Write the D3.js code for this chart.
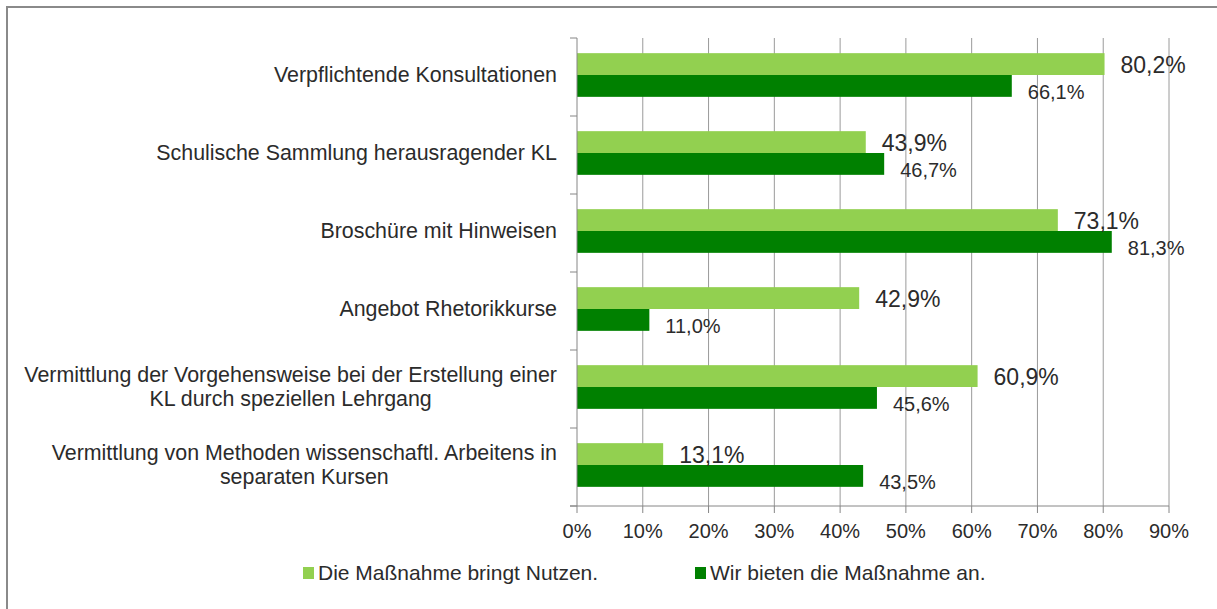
<!DOCTYPE html>
<html>
<head>
<meta charset="utf-8">
<script src="https://cdn.jsdelivr.net/npm/d3@7"></script>
<style>
  html, body { margin: 0; padding: 0; background: #fff; }
  svg text { font-family: "Liberation Sans", Arial, sans-serif; fill: #2b2b2b; }
</style>
</head>
<body>
<div id="chart"></div>
<script>
// --- Data ---
const categories = [
    "Verpflichtende Konsultationen",
    "Schulische Sammlung herausragender KL",
    "Broschüre mit Hinweisen",
    "Angebot Rhetorikkurse",
    "Vermittlung der Vorgehensweise bei der Erstellung einer\nKL durch speziellen Lehrgang",
    "Vermittlung von Methoden wissenschaftl. Arbeitens in\nseparaten Kursen"
];
const nutzen = [80.2, 43.9, 73.1, 42.9, 60.9, 13.1];
const bieten = [66.1, 46.7, 81.3, 11.0, 45.6, 43.5];
const seriesNames = ["Die Maßnahme bringt Nutzen.", "Wir bieten die Maßnahme an."];
const xTicks = [0, 10, 20, 30, 40, 50, 60, 70, 80, 90];

const width = 1217, height = 609;
const colors = ["#92d050", "#008000"];

const svg = d3.select("#chart").append("svg")
    .attr("width", width)
    .attr("height", height);

// outer frame (only top and left edges visible)
svg.append("rect")
    .attr("x", 7).attr("y", 7)
    .attr("width", 1240).attr("height", 640)
    .attr("fill", "none")
    .attr("stroke", "#8a8a8a")
    .attr("stroke-width", 2);

const plot = { left: 577, right: 1169, top: 38, bottom: 506 };

const x = d3.scaleLinear().domain([0, 90]).range([plot.left, plot.right]);
const y = d3.scaleBand().domain(d3.range(categories.length))
    .range([plot.top, plot.bottom])
    .paddingInner(0.44).paddingOuter(0.22);
const ySub = d3.scaleBand().domain([0, 1]).range([0, y.bandwidth()]);

const de = d3.formatLocale({ decimal: ",", thousands: ".", grouping: [3], currency: ["", " €"] });
const fmt = v => de.format(".1f")(v) + "%";

// gridlines
svg.append("g").selectAll("line")
    .data(xTicks.slice(1))
    .join("line")
    .attr("x1", d => x(d)).attr("x2", d => x(d))
    .attr("y1", plot.top).attr("y2", plot.bottom)
    .attr("stroke", "#9a9a9a")
    .attr("stroke-width", 1);

// bars
const rows = categories.map((c, i) => ({ i, vals: [nutzen[i], bieten[i]] }));
const groups = svg.append("g").selectAll("g")
    .data(rows)
    .join("g")
    .attr("transform", d => `translate(0,${y(d.i) - 2})`);

groups.selectAll("rect")
    .data(d => d.vals.map((v, s) => ({ v, s })))
    .join("rect")
    .attr("x", x(0))
    .attr("y", d => ySub(d.s))
    .attr("width", d => x(d.v) - x(0))
    .attr("height", ySub.bandwidth())
    .attr("fill", d => colors[d.s]);

// data labels
groups.selectAll("text.val")
    .data(d => d.vals.map((v, s) => ({ v, s })))
    .join("text")
    .attr("class", "val")
    .attr("x", d => x(d.v) + 16)
    .attr("y", d => ySub(d.s) + ySub.bandwidth() / 2 + (d.s === 0 ? 1 : 6))
    .attr("dy", "0.35em")
    .style("font-size", d => d.s === 0 ? "23px" : "20px")
    .text(d => fmt(d.v));

// category labels (multi-line, block right aligned, lines centred)
const labelRight = 557;
rows.forEach(d => {
    const lines = categories[d.i].split("\n");
    const cy = y(d.i) - 2 + y.bandwidth() / 2;
    const lh = 24;
    const t = svg.append("text")
        .style("font-size", "21.4px")
        .attr("text-anchor", "middle");
    lines.forEach((ln, k) => {
        t.append("tspan")
            .attr("y", cy + (k - (lines.length - 1) / 2) * lh)
            .attr("dy", "0.35em")
            .text(ln);
    });
    const w = d3.max(t.selectAll("tspan").nodes(), n => n.getComputedTextLength());
    t.selectAll("tspan").attr("x", labelRight - w / 2);
});

// axes
const axisColor = "#868686";
svg.append("line")
    .attr("x1", plot.left).attr("x2", plot.left)
    .attr("y1", plot.top).attr("y2", plot.bottom)
    .attr("stroke", axisColor);
svg.append("line")
    .attr("x1", plot.left - 7).attr("x2", plot.right)
    .attr("y1", plot.bottom).attr("y2", plot.bottom)
    .attr("stroke", axisColor);

// y tick marks at category boundaries
const yBounds = d3.range(categories.length + 1).map(i => plot.top + i * (plot.bottom - plot.top) / categories.length);
svg.append("g").selectAll("line")
    .data(yBounds)
    .join("line")
    .attr("x1", plot.left - 7).attr("x2", plot.left)
    .attr("y1", d => d).attr("y2", d => d)
    .attr("stroke", axisColor);

// x ticks and labels
svg.append("g").selectAll("line")
    .data(xTicks)
    .join("line")
    .attr("x1", d => x(d)).attr("x2", d => x(d))
    .attr("y1", plot.bottom).attr("y2", plot.bottom + 7)
    .attr("stroke", axisColor);

svg.append("g").selectAll("text")
    .data(xTicks)
    .join("text")
    .attr("x", d => x(d))
    .attr("y", 531)
    .attr("dy", "0.35em")
    .attr("text-anchor", "middle")
    .style("font-size", "20px")
    .text(d => d + "%");

// legend
const legendX = [303, 695];
const legend = svg.append("g").selectAll("g")
    .data(seriesNames)
    .join("g")
    .attr("transform", (d, i) => `translate(${legendX[i]},573)`);
legend.append("rect")
    .attr("x", 0).attr("y", -6)
    .attr("width", 11).attr("height", 12)
    .attr("fill", (d, i) => colors[i]);
legend.append("text")
    .attr("x", 15)
    .attr("dy", "0.35em")
    .style("font-size", "21px")
    .text(d => d);
</script>
</body>
</html>
